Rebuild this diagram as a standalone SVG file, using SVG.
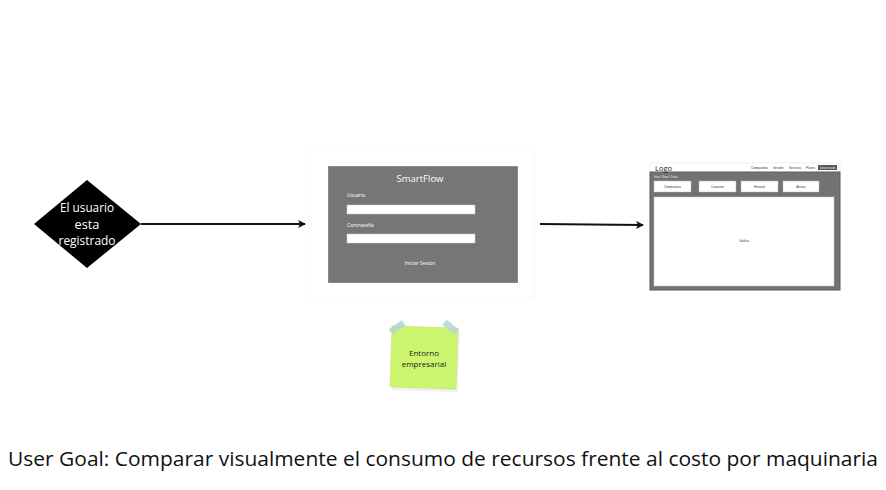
<svg xmlns="http://www.w3.org/2000/svg" width="886" height="490" viewBox="0 0 886 490">
<style>
.w{fill:#ffffff;font-family:"Open Sans","Liberation Sans",sans-serif}
.t{font-family:"Open Sans","Liberation Sans",sans-serif}
.tiny{font-family:"Liberation Sans",sans-serif;font-size:3px;fill:#333}
.card{fill:#ffffff;stroke:#bbbbbb;stroke-width:0.5}
.conn{stroke:#111;stroke-width:2;fill:none;marker-end:url(#ah)}
</style>
<defs>
<marker id="ah" markerWidth="8" markerHeight="8" refX="7" refY="4" orient="auto" markerUnits="userSpaceOnUse">
<path d="M0,0 L8,4 L0,8 L2,4 Z" fill="#111"/>
</marker>
</defs>
<rect width="886" height="490" fill="#ffffff"/>

<g id="decision">
<polygon points="87,180 141,224 87,268 34,224" fill="#000"/>
<text class="w" font-size="12.5" text-anchor="middle" x="87" y="212" textLength="54" lengthAdjust="spacingAndGlyphs">El usuario</text>
<text class="w" font-size="12.5" text-anchor="middle" x="87" y="229" textLength="25" lengthAdjust="spacingAndGlyphs">esta</text>
<text class="w" font-size="12.5" text-anchor="middle" x="87" y="245" textLength="57" lengthAdjust="spacingAndGlyphs">registrado</text>
</g>

<g id="connectors">
<line class="conn" x1="141" y1="224" x2="305" y2="224"/>
<line class="conn" x1="540" y1="224" x2="643" y2="225"/>
</g>

<g id="login">
<rect x="310" y="149" width="225" height="149" fill="#fff" stroke="#e6e6e6" stroke-width="1" stroke-dasharray="1,3"/>
<rect x="328.5" y="166.5" width="189" height="116" fill="#767676" stroke="#8a8a8a" stroke-width="1"/>
<text class="w" font-size="9.5" text-anchor="middle" x="420" y="182">SmartFlow</text>
<text class="w" font-size="5" x="347" y="197">Usuario</text>
<rect x="347" y="205" width="128" height="9" fill="#fff" stroke="#ccc" stroke-width="0.5"/>
<text class="w" font-size="5" x="347" y="227">Contraseña</text>
<rect x="347" y="234" width="128" height="9" fill="#fff" stroke="#ccc" stroke-width="0.5"/>
<text class="w" font-size="5" text-anchor="middle" x="420" y="265">Iniciar Sesion</text>
</g>

<g id="dashboard">
<rect x="650" y="163" width="190" height="127" fill="#fff" stroke="#ddd" stroke-width="0.5"/>
<rect x="650" y="172" width="190" height="118" fill="#727272" stroke="#5e5e5e" stroke-width="1"/>
<text class="t" font-size="7.5" x="655" y="171" fill="#222">Logo</text>
<text class="tiny" x="751" y="169">Comparativa</text>
<text class="tiny" x="773" y="169">Gestión</text>
<text class="tiny" x="789" y="169">Servicios</text>
<text class="tiny" x="806" y="169">Planes</text>
<rect x="818" y="165" width="19" height="5" fill="#555"/>
<text class="tiny" x="827.5" y="168.8" text-anchor="middle" style="fill:#fff;font-size:2.6px">Cerrar sesión</text>
<text class="tiny" x="654" y="178" style="fill:#eee;font-size:2.6px">Inicio / Panel / Datos</text>
<rect class="card" x="654" y="181" width="37" height="11"/>
<rect class="card" x="699" y="181" width="37" height="11"/>
<rect class="card" x="741" y="181" width="37" height="11"/>
<rect class="card" x="783" y="181" width="36" height="11"/>
<text class="tiny" x="672.5" y="187.5" text-anchor="middle">Comparativa</text>
<text class="tiny" x="717.5" y="187.5" text-anchor="middle">Consumo</text>
<text class="tiny" x="759.5" y="187.5" text-anchor="middle">Historial</text>
<text class="tiny" x="801" y="187.5" text-anchor="middle">Alertas</text>
<rect x="654" y="197" width="180" height="89" fill="#fff" stroke="#ccc" stroke-width="0.5"/>
<text class="tiny" x="744" y="242" text-anchor="middle">Gráfico</text>
</g>

<g id="note">
<rect x="393" y="330" width="66" height="61" fill="#000" opacity="0.06" transform="rotate(2 424 357)"/>
<rect x="391" y="327" width="66" height="61" fill="#ccf66e" stroke="#bde062" stroke-width="0.5" transform="rotate(2 424 357)"/>
<rect x="389" y="324" width="16" height="7" fill="#b5d6cf" opacity="0.85" transform="rotate(-35 397 327)"/>
<rect x="443" y="324" width="16" height="7" fill="#b5d6cf" opacity="0.85" transform="rotate(40 451 327)"/>
<text class="t" font-size="8" text-anchor="middle" x="424" y="356" fill="#222">Entorno</text>
<text class="t" font-size="8" text-anchor="middle" x="424" y="367" fill="#222">empresarial</text>
</g>

<text class="t" font-size="20" x="8" y="466" fill="#111" textLength="870" lengthAdjust="spacingAndGlyphs">User Goal: Comparar visualmente el consumo de recursos frente al costo por maquinaria</text>
</svg>
